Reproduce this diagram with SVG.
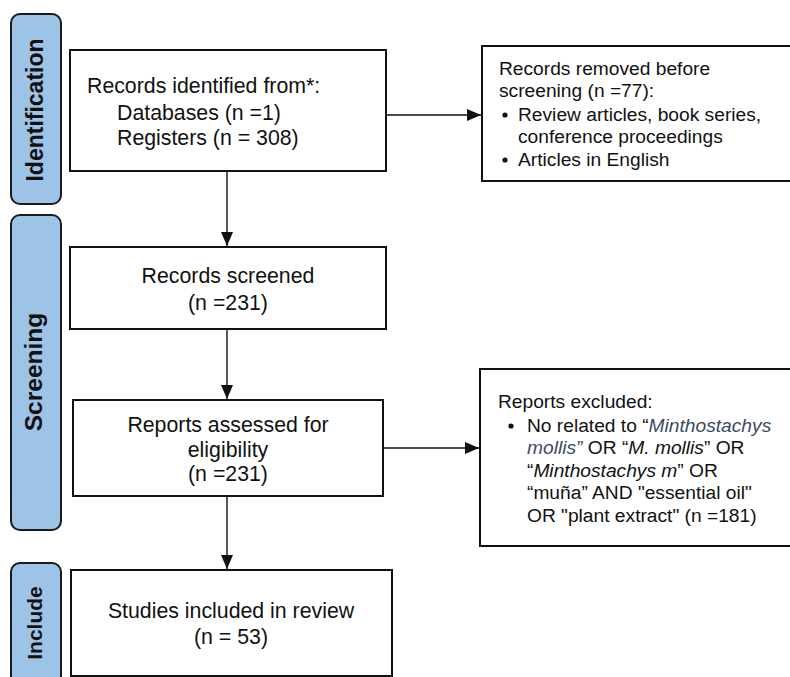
<svg xmlns="http://www.w3.org/2000/svg" width="790" height="677" viewBox="0 0 790 677">
<style>
.bg{fill:#ffffff}
.phase{fill:#9dc3e6;stroke:#1a1a1a;stroke-width:2}
.box{fill:#ffffff;stroke:#111111;stroke-width:2}
.lbl{font-family:"Liberation Sans",Arial,sans-serif;font-weight:bold;fill:#111111;text-anchor:middle}
.t{font-family:"Liberation Sans",Arial,sans-serif;font-size:21.3px;fill:#111111}
.s{font-family:"Liberation Sans",Arial,sans-serif;font-size:19.2px;fill:#111111}
.c{text-anchor:middle}
.it{font-style:italic}
.bl{fill:#3a4a63}
.ln{fill:none;stroke:#111111;stroke-width:1.4}
</style>
<defs>
<marker id="ah" viewBox="0 0 14 12" refX="14" refY="6" markerWidth="14" markerHeight="12" markerUnits="userSpaceOnUse" orient="auto">
<path d="M0,0 L14,6 L0,12 z" fill="#111111"/>
</marker>
</defs>
<rect class="bg" x="0" y="0" width="790" height="677"/>

<g id="phase-identification">
<rect class="phase" x="11" y="14" width="50" height="190" rx="9"/>
<text class="lbl" font-size="23" transform="translate(43,110) rotate(-90)">Identification</text>
</g>
<g id="phase-screening">
<rect class="phase" x="11" y="215" width="50" height="315" rx="9"/>
<text class="lbl" font-size="24.5" transform="translate(42,372) rotate(-90)">Screening</text>
</g>
<g id="phase-include">
<rect class="phase" x="11" y="563" width="50" height="130" rx="9"/>
<text class="lbl" font-size="21" transform="translate(42,623) rotate(-90)">Include</text>
</g>

<g id="connectors">
<line class="ln" x1="227" y1="171" x2="227" y2="246" marker-end="url(#ah)"/>
<line class="ln" x1="227" y1="329" x2="227" y2="399" marker-end="url(#ah)"/>
<line class="ln" x1="227" y1="496" x2="227" y2="569" marker-end="url(#ah)"/>
<line class="ln" x1="386" y1="115" x2="481" y2="115" marker-end="url(#ah)"/>
<line class="ln" x1="383" y1="448" x2="479" y2="448" marker-end="url(#ah)"/>
</g>

<g id="records-identified">
<rect class="box" x="70" y="50" width="316" height="121"/>
<text class="t"><tspan x="87" y="93">Records identified from*:</tspan><tspan x="117" y="120">Databases (n =1)</tspan><tspan x="117" y="145">Registers (n = 308)</tspan></text>
</g>

<g id="records-removed">
<path class="box" d="M792,46 L482,46 L482,181 L792,181"/>
<text class="s"><tspan x="499" y="75">Records removed before</tspan><tspan x="499" y="97">screening (n =77):</tspan><tspan x="518" y="121">Review articles, book series,</tspan><tspan x="518" y="143">conference proceedings</tspan><tspan x="518" y="166">Articles in English</tspan></text>
<circle cx="505" cy="115" r="2.6" fill="#111111"/>
<circle cx="505" cy="160" r="2.6" fill="#111111"/>
</g>

<g id="records-screened">
<rect class="box" x="70" y="247" width="316" height="82"/>
<text class="t c"><tspan x="228" y="283">Records screened</tspan><tspan x="228" y="310">(n =231)</tspan></text>
</g>

<g id="reports-assessed">
<rect class="box" x="73" y="400" width="310" height="96"/>
<text class="t c"><tspan x="228" y="432">Reports assessed for</tspan><tspan x="228" y="457">eligibility</tspan><tspan x="228" y="481">(n =231)</tspan></text>
</g>

<g id="reports-excluded">
<path class="box" d="M792,369 L480,369 L480,546 L792,546"/>
<text class="s"><tspan x="498" y="408">Reports excluded:</tspan><tspan x="527" y="432">No related to “<tspan class="it bl">Minthostachys</tspan></tspan><tspan x="527" y="454"><tspan class="it bl">mollis”</tspan> OR “<tspan class="it">M. mollis</tspan>” OR</tspan><tspan x="527" y="477">“<tspan class="it">Minthostachys m</tspan>” OR</tspan><tspan x="527" y="499">“muña” AND "essential oil"</tspan><tspan x="527" y="522">OR "plant extract" (n =181)</tspan></text>
<circle cx="511" cy="426" r="2.6" fill="#111111"/>
</g>

<g id="studies-included">
<rect class="box" x="71" y="570" width="321" height="106"/>
<text class="t c"><tspan x="231" y="618">Studies included in review</tspan><tspan x="231" y="644">(n = 53)</tspan></text>
</g>
</svg>
